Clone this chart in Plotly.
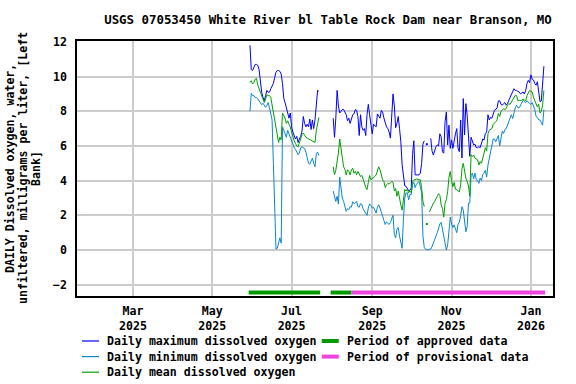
import pandas as pd
import plotly.graph_objects as go

# ---------------- data ----------------
seg1_start = "2025-05-30"
seg1_max = [11.8, 10.4, 10.35, 10.6, 10.7, 10.7, 10.65, 10.4, 9.6, 9.1,
            8.8, 8.6, 8.9, 9.2, 9.1, 9.1, 9.3, 9.5, 9.6, 9.95,
            10.25, 10.35, 10.35, 10.3, 10.15, 9.6, 8.75, 8.5, 8.2, 7.75,
            7.6, 7.9, 7.1, 6.8, 6.55, 6.4, 6.55, 6.2, 6.4, 6.55,
            6.85, 7.7, 7.3, 7.1, 7.25, 7.1, 7.55, 6.95, 7.5, 7.0,
            7.5, 8.6, 9.2, 9.15]
seg1_mean = [9.66, 9.76, 9.57, 9.66, 9.85, 9.9, 9.5, 9.3, 9.1, 8.95,
             8.7, 8.5, 8.7, 8.95, 8.9, 8.9, 8.8, 8.4, 7.9, 7.6,
             7.1, 6.7, 6.2, 6.5, 6.35, 7.9, 7.75, 7.6, 7.3, 7.45,
             7.25, 7.1, 6.8, 6.5, 6.3, 6.15, 6.0, 5.95, 6.2, 6.5,
             6.65, 6.75, 6.6, 6.5, 6.45, 6.4, 6.4, 6.35, 6.3, 6.25,
             6.2, 6.9, 7.35, 7.65]
seg1_min = [8.0, 9.03, 8.9, 8.9, 8.8, 8.8, 8.71, 8.61, 8.52, 8.38,
            8.46, 8.33, 8.23, 8.33, 8.5, 8.2, 7.9, 7.5, 5.0, 2.0,
            0.05, 0.1, 0.5, 0.7, 0.4, 7.1, 6.9, 6.7, 6.5, 6.9,
            6.7, 6.5, 6.3, 6.0, 5.9, 5.8, 5.6, 5.5, 5.6, 5.9,
            5.95, 5.9, 5.85, 5.65, 5.25, 5.0, 4.95, 5.15, 5.3, 5.0,
            4.8, 5.55, 5.65, 5.45]

seg2_start = "2025-08-02"
seg2_max = [7.6, 6.5, 7.6, 9.2, 8.3, 7.9, 8.0, 8.1, 8.1, 7.96,
            7.8, 7.45, 7.6, 7.3, 7.6, 7.8, 7.85, 8.1, 8.05, 7.7,
            6.6, 7.8, 7.1, 6.9, 7.0, 6.6, 7.8, 8.4, 7.8, 7.25,
            6.7, 7.25, 7.2, 7.1, 7.85, 7.75, 7.6, 8.05, 7.95, 7.6,
            7.3, 7.1, 7.0, 6.8, 6.45, 7.6, 9.0, 8.3, 7.05, 7.3,
            7.7, 7.0, 6.24, 4.9, 4.14, 3.7, 3.67, 3.55, 3.42, 3.45,
            3.57, 5.5, 6.3, 4.33, 4.33, 4.33, 4.33, 4.43, 5.0, 6.1,
            6.3, None, 6.1, None, None, 6.44, 5.7, 5.48, 5.77, 5.96,
            6.06, 6.0, 6.7, 6.53, 5.67, 5.58, 7.4, 7.96, 6.06, 7.2,
            5.86, 6.35, 5.86, 6.35, 6.7, 7.0, 5.86, 5.67, 7.5, 5.3,
            8.73, 6.63, 8.44, 7.77, 6.7, 5.4, 6.5, 6.24, 6.06, 6.1,
            5.9, 5.9, 5.96, 5.9, 6.2, 6.4, 6.35, 6.72, 6.8, 7.8,
            7.5, 7.65, 7.6, 7.8, 8.05, 8.1, 8.2, 8.6, 8.6, 8.4,
            8.35, 8.44, 8.5, 8.35, 8.44, 8.63, 8.78, 9.0, 9.15, 9.3,
            9.2, 9.2, 9.15, 9.11, 9.0, 9.05, 9.11, 9.0, 9.2, 9.6,
            9.78, 9.65, 10.1, 9.85, 9.8, 9.6, 9.5, 9.7, 9.1, 8.55,
            8.6, 9.9, 10.6]
seg2_mean = [4.8, 4.35, 4.6, 5.1, 5.6, 6.4, 5.9, 5.3, 4.8, 4.65,
             4.33, 4.62, 4.53, 4.33, 4.62, 4.72, 4.43, 4.53, 4.33, 4.53,
             4.33, 4.24, 4.3, 4.0, 3.86, 3.6, 3.48, 3.9, 4.3, 4.05,
             4.1, 4.14, 4.24, 4.33, 4.57, 4.8, 4.62, 4.24, 4.05, 3.95,
             3.6, 3.76, 3.84, 3.8, 3.9, 3.95, 3.9, 3.4, 3.55, 3.1,
             3.4, 2.9, 2.6, 2.3, 3.0, 3.5, 3.4, 3.5, 3.3, 3.4,
             3.3, 3.95, 4.05, 4.05, 4.1, 4.05, 4.05, 4.05, 3.6, 2.8,
             2.5, None, 1.5, None, 2.2, 2.4, 2.5, 2.7, 2.8, 3.0,
             3.1, 3.25, 3.15, 2.61, 2.4, 1.9, 2.7, 2.9, 3.38, 4.2,
             4.53, 4.0, 3.65, 3.9, 3.5, 3.48, 3.38, 3.35, 3.76, 4.7,
             5.0, 4.4, 4.14, 3.95, 3.7, 3.1, 5.5, 5.39, 5.48, 5.3,
             5.25, 5.2, 4.9, 5.1, 5.0, 5.29, 5.55, 5.9, 5.7, 6.7,
             6.9, 6.95, 7.0, 7.25, 7.3, 7.4, 7.5, 7.87, 7.7, 8.0,
             8.06, 8.15, 8.1, 8.15, 8.35, 8.44, 8.4, 8.54, 8.63, 8.73,
             8.92, 8.9, 8.6, 8.63, 8.63, 8.63, 8.7, 8.63, 8.6, 8.9,
             9.11, 9.2, 9.15, 9.11, 8.8, 8.63, 8.44, 8.25, 8.4, 7.9,
             8.0, 8.35, 9.2]
seg2_min = [3.4, 3.1, 2.8, 3.1, 2.65, 4.2, 3.6, 3.0, 2.8, 2.5,
            2.23, 2.38, 2.33, 2.5, 2.47, 2.78, 2.67, 2.72, 2.8, 2.5,
            2.47, 2.68, 2.62, 2.37, 2.23, 2.1, 2.0, 2.42, 2.66, 2.57,
            2.42, 2.47, 2.27, 2.13, 2.47, 2.61, 2.42, 2.23, 1.95, 1.7,
            1.47, 1.62, 1.55, 1.47, 1.6, 1.85, 2.0, 0.9, 0.7, 1.2,
            1.3, 0.8, 0.5, 0.1, 1.8, 3.0, 3.3, 3.3, 2.9, 3.2,
            3.2, 3.8, 3.9, 3.6, 3.8, 3.9, 3.95, 3.65, 3.3, 0.8,
            0.15, 0.05, 0.0, 0.0, 0.05, 0.05, 0.2, 0.45, 0.6, 0.8,
            1.0, 1.3, 1.5, 1.6, 1.2, 0.9, 0.4, 0.0, 0.3, 1.0,
            1.9, 1.5, 1.3, 1.45, 1.15, 1.0, 1.5, 1.6, 2.0, 2.5,
            2.3, 1.65, 1.05, 1.35, 2.7, 2.7, 4.3, 4.43, 4.1, 4.43,
            4.05, 4.0, 3.84, 4.15, 4.0, 4.35, 4.43, 4.6, 4.2, 4.9,
            5.3, 5.67, 6.06, 6.4, 6.4, 6.24, 6.44, 6.6, 6.0, 6.4,
            6.85, 6.72, 6.95, 7.0, 7.2, 7.3, 7.48, 7.8, 7.58, 8.0,
            8.2, 8.35, 8.2, 8.2, 8.35, 8.5, 8.63, 8.55, 8.5, 8.6,
            8.5, 8.44, 8.4, 8.5, 8.3, 8.1, 7.7, 7.65, 7.5, 7.5,
            7.35, 7.2, 8.1]

approved_starts = ["2025-05-29", "2025-07-31"]
approved_ends = ["2025-07-23", "2025-08-16"]
provisional_starts = ["2025-08-16"]
provisional_ends = ["2026-01-12"]

x_tick_dates = ["2025-03-01", "2025-05-01", "2025-07-01",
                "2025-09-01", "2025-11-01", "2026-01-01"]
x_tick_labels = ["Mar<br>2025", "May<br>2025", "Jul<br>2025",
                 "Sep<br>2025", "Nov<br>2025", "Jan<br>2026"]
y_tick_values = [-2, 0, 2, 4, 6, 8, 10, 12]

title_text = "USGS 07053450 White River bl Table Rock Dam near Branson, MO"
y_title_lines = ["DAILY Dissolved oxygen, water,",
                 "unfiltered, milligrams per liter, [Left",
                 "Bank]"]

# ---------------- build ----------------
d1 = pd.date_range(seg1_start, periods=len(seg1_max), freq="D")
d2 = pd.date_range(seg2_start, periods=len(seg2_max), freq="D")
gap_day = d1[-1] + pd.Timedelta(days=1)
dates = list(d1) + [gap_day] + list(d2)


def join(a, b):
    return list(a) + [None] + list(b)


series = [
    ("Daily maximum dissolved oxygen", join(seg1_max, seg2_max), "#0000ff"),
    ("Daily minimum dissolved oxygen", join(seg1_min, seg2_min), "#0a86d2"),
    ("Daily mean dissolved oxygen", join(seg1_mean, seg2_mean), "#00a000"),
]

FONT = "DejaVu Sans Mono"
FS = 11.6
fig = go.Figure()

for name, vals, col in series:
    fig.add_trace(go.Scatter(x=dates, y=vals, mode="lines", name=name,
                             line=dict(color=col, width=1),
                             connectgaps=False, showlegend=False))
    # isolated single days (no neighbours) drawn as small dots
    iso_x, iso_y = [], []
    for k, v in enumerate(vals):
        if v is None:
            continue
        prev_none = k == 0 or vals[k - 1] is None
        next_none = k == len(vals) - 1 or vals[k + 1] is None
        if prev_none and next_none:
            iso_x.append(dates[k])
            iso_y.append(v)
    if iso_x:
        fig.add_trace(go.Scatter(x=iso_x, y=iso_y, mode="markers",
                                 marker=dict(color=col, size=2, symbol="square"),
                                 showlegend=False, hoverinfo="skip"))

BAR_LEVEL = -2.45
for s, e in zip(approved_starts, approved_ends):
    fig.add_trace(go.Scatter(x=[s, e], y=[BAR_LEVEL, BAR_LEVEL], mode="lines",
                             line=dict(color="#009900", width=4),
                             showlegend=False, hoverinfo="skip"))
for s, e in zip(provisional_starts, provisional_ends):
    fig.add_trace(go.Scatter(x=[s, e], y=[BAR_LEVEL, BAR_LEVEL], mode="lines",
                             line=dict(color="#ee44dd", width=4),
                             showlegend=False, hoverinfo="skip"))

# plot area in pixels
L, R, T, B = 77, 553.5, 41, 296
W, H = R - L, B - T


def px(xp):
    return (xp - L) / W


def py(yp):
    return (B - yp) / H


txt_font = dict(family=FONT, size=FS, color="black", weight="bold")

# manual legend (two columns, three rows)
legend_items = [
    (0, 0, "Daily maximum dissolved oxygen", "#0000ff", 1.2),
    (0, 1, "Daily minimum dissolved oxygen", "#0a86d2", 1.2),
    (0, 2, "Daily mean dissolved oxygen", "#00a000", 1.2),
    (1, 0, "Period of approved data", "#009900", 4),
    (1, 1, "Period of provisional data", "#ee44dd", 4),
]
col_sample = [(82, 99, 105), (322, 339, 345)]
row_y = [341, 356.6, 372.2]
for c, r, label, col, lw in legend_items:
    x0, x1, xt = col_sample[c]
    yy = row_y[r]
    fig.add_shape(type="line", xref="paper", yref="paper",
                  x0=px(x0), x1=px(x1), y0=py(yy), y1=py(yy),
                  line=dict(color=col, width=lw))
    fig.add_annotation(xref="paper", yref="paper", x=px(xt), y=py(yy),
                       xanchor="left", yanchor="middle", showarrow=False,
                       text=label, font=txt_font)

# y-axis title, one rotated line each
title_cols = [9.5, 22.5, 35.5]
for xc, line in zip(title_cols, y_title_lines):
    fig.add_annotation(xref="paper", yref="paper", x=px(xc), y=py(168.5),
                       xanchor="center", yanchor="middle", showarrow=False,
                       textangle=-90, text=line, font=txt_font)

fig.update_layout(
    width=576, height=384, autosize=False,
    margin=dict(l=L, r=576 - R, t=T, b=384 - B, pad=0, autoexpand=False),
    paper_bgcolor="white", plot_bgcolor="white",
    font=txt_font,
    title=dict(text=title_text, x=328 / 576, xanchor="center", xref="container",
               y=1 - 19.5 / 384, yanchor="middle", yref="container",
               font=dict(family=FONT, size=12.4, color="black", weight="bold")),
    showlegend=False,
)
fig.update_xaxes(type="date", range=["2025-01-17", "2026-01-18"],
                 tickmode="array", tickvals=x_tick_dates, ticktext=x_tick_labels,
                 showgrid=True, gridcolor="#cccccc", gridwidth=1.5,
                 showline=True, linecolor="black", linewidth=1.5, mirror=True,
                 ticks="", ticklabelstandoff=3, zeroline=False, automargin=False,
                 tickfont=txt_font)
fig.update_yaxes(range=[-2.65, 12.05], tickmode="array", tickvals=y_tick_values,
                 showgrid=True, gridcolor="#cccccc", gridwidth=1.5,
                 showline=True, linecolor="black", linewidth=1.5, mirror=True,
                 ticks="", ticklabelstandoff=6, zeroline=False, automargin=False,
                 tickfont=txt_font)

fig.write_html("out.html", config={"displayModeBar": False},
               post_script="document.body.style.margin='0';")
